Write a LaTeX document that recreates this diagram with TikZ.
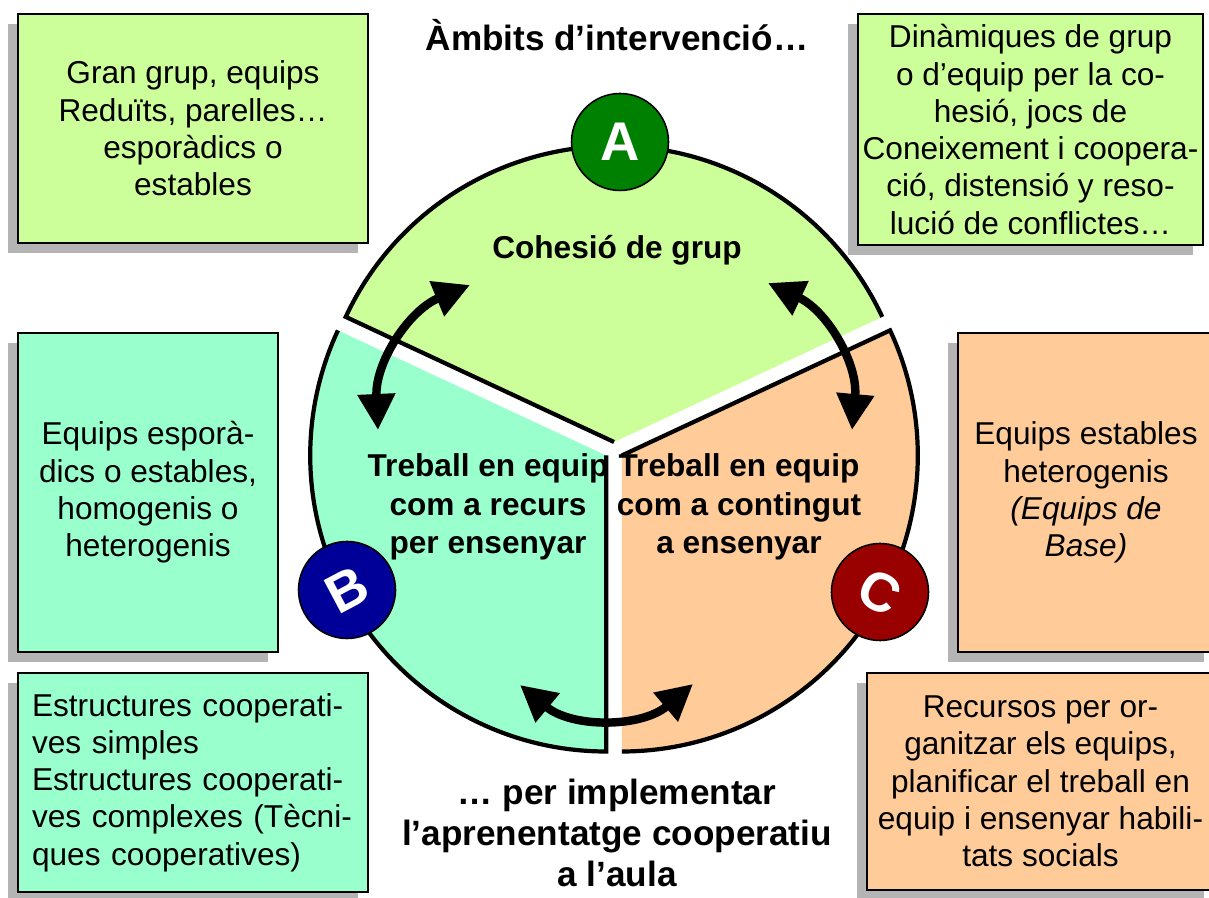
\documentclass[tikz,border=0pt]{standalone}
\usepackage{fontspec}
\setmainfont{Liberation Sans}
\usetikzlibrary{arrows.meta,calc,shadows}
\definecolor{grpgreen}{RGB}{204,255,153}
\definecolor{grpaqua}{RGB}{153,255,204}
\definecolor{grppeach}{RGB}{255,204,153}
\definecolor{letgreen}{RGB}{0,128,0}
\definecolor{letblue}{RGB}{0,0,153}
\definecolor{letred}{RGB}{153,0,0}
\definecolor{shadowgrey}{RGB}{180,180,180}
\tikzset{
  infobox/.style={draw=black, line width=0.8pt, outer sep=0pt, inner sep=0pt, align=center,
    font=\fontsize{18pt}{21.2pt}\selectfont,
    drop shadow={shadow xshift=-0.2cm, shadow yshift=-0.2cm, fill=shadowgrey, opacity=1}},
  sectorline/.style={line width=2.4pt, line join=miter},
  bigarrow/.style={line width=4.8pt, {Triangle[length=0.72cm,width=0.72cm]}-{Triangle[length=0.72cm,width=0.72cm]}},
  letter/.style={circle, draw=black, line width=0.9pt, minimum size=1.94cm, inner sep=0pt,
    text=white, font=\fontsize{31pt}{31pt}\selectfont\bfseries},
  sectorlabel/.style={align=center, font=\fontsize{18pt}{22pt}\selectfont\bfseries},
  titlelabel/.style={align=center, font=\fontsize{20pt}{23.5pt}\selectfont\bfseries}
}
\begin{document}
\begin{tikzpicture}[x=0.02cm, y=0.02cm]
  \useasboundingbox (0,0) rectangle (1209,898);
  \coordinate (ctr) at (614,447);
  \coordinate (ctrA) at ($(ctr)+(90:9)$);
  \coordinate (ctrB) at ($(ctr)+(210:9)$);
  \coordinate (ctrC) at ($(ctr)+(330:9)$);

  \fill[grpgreen] (ctrA) -- ++(25:296) arc[start angle=25, end angle=155, radius=296] -- cycle;
  \fill[grpaqua] (ctrB) -- ++(155:296) arc[start angle=155, end angle=270, radius=296] -- cycle;
  \fill[grppeach] (ctrC) -- ++(270:296) arc[start angle=270, end angle=385, radius=296] -- cycle;
  \draw[sectorline] (ctrA) -- ++(155:296) arc[start angle=155, end angle=25, radius=296];
  \draw[sectorline] (ctrB) -- ++(270:296) arc[start angle=270, end angle=155, radius=296];
  \draw[sectorline] (ctrC) -- ++(25:296) arc[start angle=25, end angle=-90, radius=296];

  \coordinate (arrBl) at (378,468);
  \coordinate (arrAl) at (470,613);
  \coordinate (arrAr) at (768,615);
  \coordinate (arrCr) at (852,468);
  \coordinate (arrBb) at (520,213);
  \coordinate (arrCb) at (693,214);
  \draw[bigarrow] (arrBl) to[bend left=35] (arrAl);
  \draw[bigarrow] (arrAr) to[bend left=35] (arrCr);
  \draw[bigarrow] (arrBb) to[bend right=40] (arrCb);

  \node[letter, fill=letgreen] (letA) at (620,756) {A};
  \node[letter, fill=letblue, rotate=28] (letB) at (347,308) {B};
  \node[letter, fill=letred, rotate=-28] (letC) at (880,306) {C};

  \node[titlelabel] (title) at (617,863) {Àmbits d’intervenció…};
  \node[titlelabel] (aim) at (617,65) {… per implementar\\l’aprenentatge cooperatiu\\a l’aula};
  \node[sectorlabel] (labA) at (617,648) {Cohesió de grup};
  \node[sectorlabel] (labB) at (488,391) {Treball en equip\\com a recurs\\per ensenyar};
  \node[sectorlabel] (labC) at (739,391) {Treball en equip\\com a contingut\\a ensenyar};

  \node[infobox, fill=grpgreen, minimum width=7cm, minimum height=4.58cm] (boxA1) at (193,769.5)
    {Gran grup, equips\\Reduïts, parelles…\\esporàdics o\\estables};
  \node[infobox, fill=grpgreen, minimum width=6.9cm, minimum height=4.62cm] (boxA2) at (1030.5,768.5)
    {Dinàmiques de grup\\o d’equip per la co-\\hesió, jocs de\\Coneixement i coopera-\\ció, distensió y reso-\\lució de conflictes…};
  \node[infobox, fill=grpaqua, minimum width=5.2cm, minimum height=6.38cm] (boxB1) at (148,405.5)
    {Equips esporà-\\dics o estables,\\homogenis o\\heterogenis};
  \node[infobox, fill=grppeach, minimum width=5.12cm, minimum height=6.38cm] (boxC1) at (1086,405.5)
    {Equips estables\\heterogenis\\\textit{(Equips de}\\\textit{Base)}};
  \node[infobox, fill=grpaqua, minimum width=7cm, minimum height=4.38cm, text width=6.44cm, align=left] (boxB2) at (193,115.5)
    {Estructures cooperati-\\ves simples\\Estructures cooperati-\\ves complexes (Tècni-\\ques cooperatives)};
  \node[infobox, fill=grppeach, minimum width=6.94cm, minimum height=4.34cm] (boxC2) at (1040.5,116.5)
    {Recursos per or-\\ganitzar els equips,\\planificar el treball en\\equip i ensenyar habili-\\tats socials};
\end{tikzpicture}
\end{document}
